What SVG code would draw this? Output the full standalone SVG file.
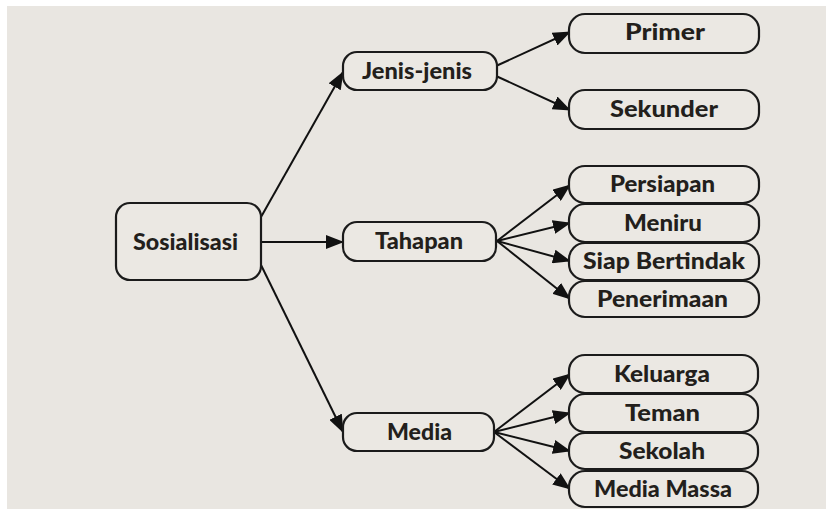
<svg xmlns="http://www.w3.org/2000/svg" width="826" height="509" viewBox="0 0 826 509">
<style>
.box{fill:#ebe8e3;stroke:#1b1b1b;stroke-width:2.2}
.lbl{font-family:Lato,"Open Sans","DejaVu Sans",sans-serif;font-weight:900;font-size:23px;fill:#231f1c;text-anchor:middle}
.con{stroke:#111;stroke-width:2;fill:none;marker-end:url(#ah)}
</style>
<defs>
<marker id="ah" viewBox="0 0 18 14" refX="17" refY="7" markerWidth="18" markerHeight="14" markerUnits="userSpaceOnUse" orient="auto">
<path d="M0,0 L18,7 L0,14 Z" fill="#111"/>
</marker>
</defs>
<rect x="0" y="0" width="826" height="509" fill="#ffffff"/>
<rect x="7" y="6" width="819" height="503" fill="#e9e6e1"/>
<g id="connectors">
<line class="con" x1="261" y1="217" x2="343" y2="72"/>
<line class="con" x1="261" y1="242" x2="343" y2="242"/>
<line class="con" x1="261" y1="265" x2="343" y2="432"/>
<line class="con" x1="496" y1="66" x2="570" y2="32"/>
<line class="con" x1="496" y1="76" x2="570" y2="110"/>
<line class="con" x1="497" y1="241" x2="570" y2="185"/>
<line class="con" x1="497" y1="241" x2="570" y2="223"/>
<line class="con" x1="497" y1="241" x2="570" y2="261"/>
<line class="con" x1="497" y1="241" x2="570" y2="299"/>
<line class="con" x1="494" y1="432" x2="570" y2="374"/>
<line class="con" x1="494" y1="432" x2="570" y2="413"/>
<line class="con" x1="494" y1="432" x2="570" y2="451"/>
<line class="con" x1="494" y1="432" x2="570" y2="489"/>
</g>
<g id="sosialisasi"><rect class="box" x="116" y="203" width="145" height="77" rx="14"/><text class="lbl" x="185.5" y="250" textLength="105" lengthAdjust="spacingAndGlyphs">Sosialisasi</text></g>
<g id="jenis"><rect class="box" x="343" y="52" width="154" height="38" rx="14"/><text class="lbl" x="417" y="79" textLength="110" lengthAdjust="spacingAndGlyphs">Jenis-jenis</text></g>
<g id="tahapan"><rect class="box" x="343" y="222" width="153" height="39" rx="14"/><text class="lbl" x="419" y="249" textLength="88" lengthAdjust="spacingAndGlyphs">Tahapan</text></g>
<g id="media"><rect class="box" x="343" y="413" width="151" height="38" rx="14"/><text class="lbl" x="419.5" y="440" textLength="65" lengthAdjust="spacingAndGlyphs">Media</text></g>
<g id="primer"><rect class="box" x="569" y="14" width="190" height="39" rx="16"/><text class="lbl" x="665" y="40" textLength="80" lengthAdjust="spacingAndGlyphs">Primer</text></g>
<g id="sekunder"><rect class="box" x="569" y="90" width="190" height="39" rx="16"/><text class="lbl" x="664" y="117" textLength="108" lengthAdjust="spacingAndGlyphs">Sekunder</text></g>
<g id="persiapan"><rect class="box" x="569" y="166" width="190" height="37" rx="16"/><text class="lbl" x="662.5" y="192" textLength="105" lengthAdjust="spacingAndGlyphs">Persiapan</text></g>
<g id="meniru"><rect class="box" x="569" y="204" width="190" height="38" rx="16"/><text class="lbl" x="663" y="231" textLength="78" lengthAdjust="spacingAndGlyphs">Meniru</text></g>
<g id="siap"><rect class="box" x="569" y="243" width="190" height="37" rx="16"/><text class="lbl" x="664" y="269" textLength="162" lengthAdjust="spacingAndGlyphs">Siap Bertindak</text></g>
<g id="penerimaan"><rect class="box" x="569" y="281" width="190" height="36" rx="16"/><text class="lbl" x="662.5" y="307" textLength="131" lengthAdjust="spacingAndGlyphs">Penerimaan</text></g>
<g id="keluarga"><rect class="box" x="569" y="355" width="189" height="38" rx="16"/><text class="lbl" x="662" y="382" textLength="96" lengthAdjust="spacingAndGlyphs">Keluarga</text></g>
<g id="teman"><rect class="box" x="569" y="394" width="189" height="38" rx="16"/><text class="lbl" x="662.5" y="421" textLength="75" lengthAdjust="spacingAndGlyphs">Teman</text></g>
<g id="sekolah"><rect class="box" x="569" y="433" width="189" height="36" rx="16"/><text class="lbl" x="662" y="459" textLength="86" lengthAdjust="spacingAndGlyphs">Sekolah</text></g>
<g id="mediamassa"><rect class="box" x="569" y="471" width="189" height="36" rx="16"/><text class="lbl" x="663" y="497" textLength="138" lengthAdjust="spacingAndGlyphs">Media Massa</text></g>
</svg>
